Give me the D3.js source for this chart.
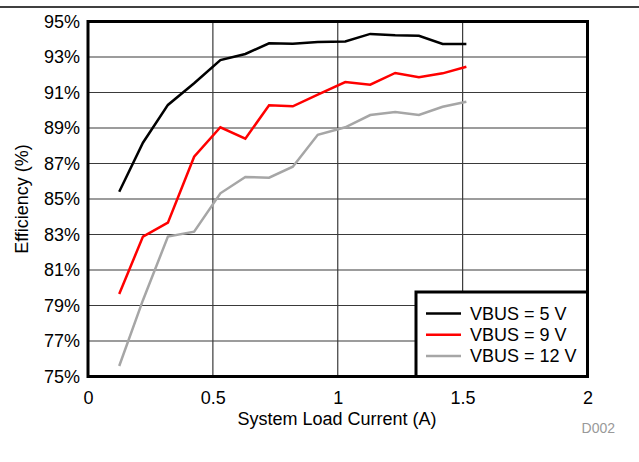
<!DOCTYPE html>
<html><head><meta charset="utf-8">
<script src="https://cdn.jsdelivr.net/npm/d3@7/dist/d3.min.js"></script>
<style>body{margin:0;background:#fff}svg{display:block;font-family:"Liberation Sans",Arial,sans-serif}</style>
</head><body>
<svg id="c" width="639" height="462"></svg>
<script>
const current = [0.125,0.22,0.32,0.425,0.53,0.63,0.725,0.82,0.92,1.03,1.13,1.23,1.325,1.42,1.515];
const vbus5  = [85.41,88.17,90.30,91.52,92.83,93.17,93.77,93.75,93.84,93.88,94.30,94.22,94.20,93.73,93.73];
const vbus9  = [79.65,82.88,83.67,87.38,89.04,88.40,90.28,90.22,90.88,91.59,91.44,92.10,91.86,92.08,92.45];
const vbus12 = [75.59,79.30,82.88,83.16,85.32,86.24,86.20,86.82,88.62,89.04,89.73,89.90,89.73,90.20,90.48];
const seriesNames = ["VBUS = 5 V","VBUS = 9 V","VBUS = 12 V"];
const seriesColors = ["#000000","#ff0000","#a6a6a6"];
const xTicks = [0,0.5,1,1.5,2];
const xTickLabels = ["0","0.5","1","1.5","2"];
const yTicks = [75,77,79,81,83,85,87,89,91,93,95];

const svg = d3.select("#c");
const x = d3.scaleLinear().domain([0,2]).range([88,587.5]);
const y = d3.scaleLinear().domain([75,95]).range([376.5,21.5]);
const FS = 18;

svg.append("line").attr("x1",0).attr("x2",639).attr("y1",7).attr("y2",7).attr("stroke","#000").attr("stroke-width",1.5);

const g = svg.append("g");
g.selectAll(".hg").data(yTicks.slice(1,-1)).join("line")
  .attr("x1",x(0)).attr("x2",x(2)).attr("y1",d=>y(d)).attr("y2",d=>y(d))
  .attr("stroke","#3a3a3a").attr("stroke-width",1.2);
g.selectAll(".vg").data(xTicks.slice(1,-1)).join("line")
  .attr("y1",y(75)).attr("y2",y(95)).attr("x1",d=>x(d)).attr("x2",d=>x(d))
  .attr("stroke","#3a3a3a").attr("stroke-width",1.2);

const xAxis = d3.axisBottom(x).tickValues(xTicks).tickFormat((d,i)=>xTickLabels[i]).tickSize(0).tickPadding(15);
const xa = svg.append("g").attr("transform",`translate(0,${y(75)})`).call(xAxis);
xa.select(".domain").remove();
xa.selectAll("text").attr("font-size",FS).attr("fill","#000").attr("font-family","Liberation Sans, Arial, sans-serif");

const yAxis = d3.axisLeft(y).tickValues(yTicks).tickFormat(d=>d+"%").tickSize(0).tickPadding(8);
const ya = svg.append("g").attr("transform",`translate(${x(0)},0)`).call(yAxis);
ya.select(".domain").remove();
ya.selectAll("text").attr("font-size",FS).attr("fill","#000").attr("font-family","Liberation Sans, Arial, sans-serif");

const line = d3.line().x(d=>x(d[0])).y(d=>y(d[1]));
[vbus5,vbus9,vbus12].forEach((s,i)=>{
  svg.append("path").datum(current.map((c,j)=>[c,s[j]]))
    .attr("d",line).attr("fill","none").attr("stroke",seriesColors[i]).attr("stroke-width",2.5)
    .attr("stroke-linejoin","miter");
});

// legend
const lg = svg.append("g");
lg.append("rect").attr("x",416).attr("y",292).attr("width",x(2)-416).attr("height",y(75)-292)
  .attr("fill","#fff").attr("stroke","#000").attr("stroke-width",3);
seriesNames.forEach((n,i)=>{
  const yy = 313.5 + i*21.2;
  lg.append("line").attr("x1",426).attr("x2",461).attr("y1",yy).attr("y2",yy).attr("stroke",seriesColors[i]).attr("stroke-width",2.5);
  lg.append("text").attr("x",470).attr("y",yy).attr("dy","0.36em").attr("font-size",FS).text(n);
});

svg.append("rect").attr("x",x(0)).attr("y",y(95)).attr("width",x(2)-x(0)).attr("height",y(75)-y(95))
  .attr("fill","none").attr("stroke","#000").attr("stroke-width",3);

svg.append("text").attr("x",337).attr("y",425).attr("text-anchor","middle").attr("font-size",FS).text("System Load Current (A)");
svg.append("text").attr("transform",`translate(28,${(y(75)+y(95))/2}) rotate(-90)`).attr("text-anchor","middle").attr("font-size",FS).text("Efficiency (%)");
svg.append("text").attr("x",615).attr("y",433).attr("text-anchor","end").attr("font-size",14).attr("fill","#999").text("D002");
</script>
</body></html>
